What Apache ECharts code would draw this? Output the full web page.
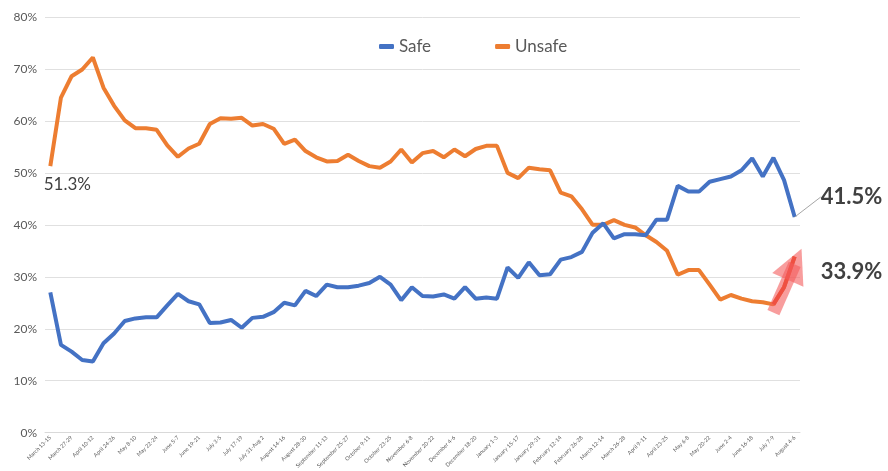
<!DOCTYPE html>
<html><head><meta charset="utf-8">
<script src="https://cdn.jsdelivr.net/npm/echarts@6/dist/echarts.min.js"></script>
<style>html,body{margin:0;padding:0;background:#fff}#c{width:888px;height:471px}</style>
</head><body><div id="c"></div>
<script>
const tickLabels = ["March 13-15","March 27-29","April 10-12","April 24-26","May 8-10","May 22-24","June 5-7","June 19-21","July 3-5","July 17-19","July 31-Aug 2","August 14-16","August 28-30","September 11-13","September 25-27","October 9-11","October 23-25","November 6-8","November 20-22","December 4-6","December 18-20","January 1-3","January 15-17","January 29-31","February 12-14","February 26-28","March 12-14","March 26-28","April 9-11","April 23-25","May 6-8","May 20-22","June 2-4","June 16-18","July 7-9","August 4-6"];
const safe = [27.0,16.9,15.6,14.0,13.7,17.2,19.1,21.5,22.0,22.2,22.2,24.5,26.7,25.3,24.7,21.1,21.2,21.7,20.2,22.1,22.3,23.2,25.0,24.5,27.3,26.3,28.5,28.0,28.0,28.3,28.8,30.0,28.5,25.5,28.0,26.3,26.2,26.6,25.8,28.0,25.8,26.0,25.8,31.8,29.8,32.8,30.3,30.5,33.3,33.8,34.8,38.5,40.3,37.4,38.2,38.2,38.0,41.0,41.0,47.5,46.4,46.4,48.3,48.8,49.3,50.5,52.8,49.3,52.9,48.6,41.5];
const unsafe = [51.3,64.5,68.6,69.9,72.2,66.4,62.9,60.1,58.6,58.6,58.3,55.3,53.1,54.7,55.6,59.4,60.5,60.4,60.6,59.1,59.4,58.5,55.6,56.4,54.2,53.0,52.2,52.3,53.5,52.3,51.3,51.0,52.2,54.5,52.0,53.8,54.2,53.0,54.5,53.2,54.6,55.2,55.2,50.0,49.0,51.0,50.7,50.5,46.2,45.5,43.0,40.0,40.0,40.9,40.0,39.5,38.0,36.7,35.0,30.4,31.3,31.3,28.5,25.6,26.5,25.8,25.3,25.1,24.7,28.0,33.9];

const n = unsafe.length;
const categories = [];
for (let i = 0; i < n; i++) categories.push(i % 2 === 0 ? tickLabels[i / 2] : '');
const last = n - 1;
const FONT = 'Lato';
const txt = { color: '#404040', fontFamily: FONT };

const safeData = safe.map((v, i) => i === last ? {
  value: v,
  label: { show: true, position: 'right', formatter: v.toFixed(1) + '%', fontSize: 22, fontWeight: 'bold', distance: 2, ...txt },
  labelLine: { show: true, lineStyle: { color: '#a6a6a6', width: 1 } }
} : v);
const unsafeData = unsafe.map((v, i) => {
  if (i === 0) return { value: v, label: { show: true, position: 'bottom', formatter: v.toFixed(1) + '%', fontSize: 17, offset: [17, 5], ...txt } };
  if (i === last) return { value: v, label: { show: true, position: 'right', formatter: v.toFixed(1) + '%', fontSize: 22, fontWeight: 'bold', offset: [21, 15], ...txt } };
  return v;
});
const riseData = unsafe.map((v, i) => i >= last - 2 ? v : null);

const chart = echarts.init(document.getElementById('c'), null, { renderer: 'canvas' });
chart.setOption({
  animation: false,
  backgroundColor: '#ffffff',
  grid: { left: 45, right: 88, top: 17, bottom: 34, containLabel: false },
  legend: {
    left: 374, top: 33, itemGap: 64, itemWidth: 15, itemHeight: 5,
    icon: 'roundRect',
    textStyle: { fontSize: 17, color: '#595959', fontFamily: FONT },
    data: ['Safe', 'Unsafe']
  },
  xAxis: {
    type: 'category', data: categories, boundaryGap: true,
    axisLine: { lineStyle: { color: '#d9d9d9', width: 1 } },
    axisTick: { show: false },
    axisLabel: { interval: 1, rotate: 45, fontSize: 5.5, color: '#595959', margin: 4, fontFamily: FONT }
  },
  yAxis: {
    type: 'value', min: 0, max: 80, interval: 10,
    axisLabel: { formatter: '{value}%', fontSize: 12, color: '#595959', margin: 8, fontFamily: FONT },
    splitLine: { lineStyle: { color: '#e0e0e0', width: 1 } },
    axisLine: { show: false }, axisTick: { show: false }
  },
  series: [
    { name: 'Safe', type: 'line', data: safeData, symbol: 'circle', symbolSize: 0, showSymbol: true,
      color: '#4472C4', lineStyle: { width: 4, color: '#4472C4' }, z: 3,
      labelLayout: function (p) { return p.dataIndex === last ? { dx: 24, dy: -20 } : {}; } },
    { name: 'Unsafe', type: 'line', data: unsafeData, symbol: 'circle', symbolSize: 0, showSymbol: true,
      color: '#ED7D31', lineStyle: { width: 4, color: '#ED7D31' }, z: 2,
      markLine: {
        silent: true, symbol: ['none', 'triangle'], symbolSize: 34,
        label: { show: false },
        lineStyle: { type: 'solid', width: 13, color: 'rgba(244,92,92,0.6)' },
        data: [[{ coord: [last - 2, unsafe[last - 2] - 1.6] }, { coord: [last, unsafe[last] - 1.5] }]]
      } },
    { name: 'rise', type: 'line', data: riseData, symbol: 'none', connectNulls: false,
      lineStyle: { width: 4, color: '#E8401C' }, z: 4 }
  ]
});
</script></body></html>
